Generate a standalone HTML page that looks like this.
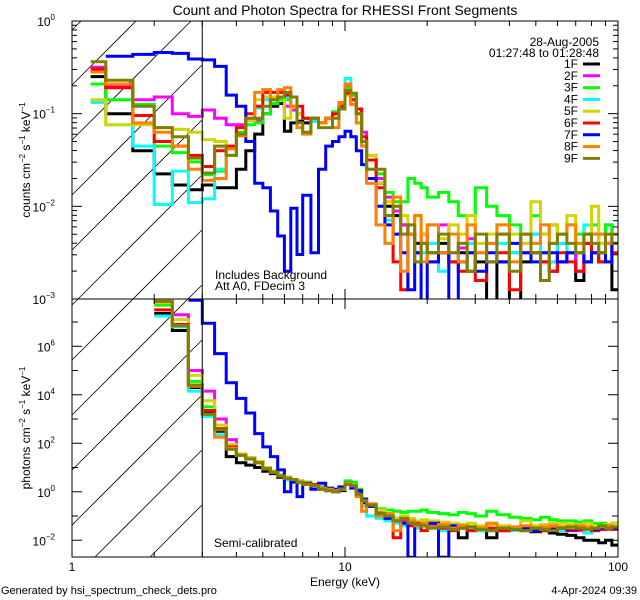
<!DOCTYPE html>
<html><head><meta charset="utf-8"><style>
html,body{margin:0;padding:0;background:#fff;width:640px;height:600px;overflow:hidden;}
svg{display:block;font-family:"Liberation Sans",sans-serif;overflow:hidden;}
</style></head><body>
<svg id="chart" width="640" height="600" viewBox="0 0 640 600">
<defs>
<clipPath id="clipTop"><rect x="72" y="21" width="546" height="278"/></clipPath>
<clipPath id="clipBot"><rect x="72" y="299" width="546" height="258"/></clipPath>
</defs>
<text x="345" y="15" font-size="14" text-anchor="middle">Count and Photon Spectra for RHESSI Front Segments</text>
<g id="hatch"></g>
<g id="series"></g>
<g id="axes"></g>
<text transform="translate(30,160) rotate(-90)" font-size="12" text-anchor="middle">counts cm<tspan font-size="8" dy="-5">−2</tspan><tspan dy="5"> s</tspan><tspan font-size="8" dy="-5">−1</tspan><tspan dy="5"> keV</tspan><tspan font-size="8" dy="-5">−1</tspan></text>
<text transform="translate(30,428) rotate(-90)" font-size="12" text-anchor="middle">photons cm<tspan font-size="8" dy="-5">−2</tspan><tspan dy="5"> s</tspan><tspan font-size="8" dy="-5">−1</tspan><tspan dy="5"> keV</tspan><tspan font-size="8" dy="-5">−1</tspan></text>
<text x="599" y="46" font-size="12" text-anchor="end">28-Aug-2005</text>
<text x="599" y="57" font-size="12" text-anchor="end">01:27:48 to 01:28:48</text>
<text x="215" y="279" font-size="12">Includes Background</text>
<text x="215" y="290" font-size="12">Att A0, FDecim 3</text>
<text x="214" y="547" font-size="12">Semi-calibrated</text>
<text x="345" y="586" font-size="12" text-anchor="middle">Energy (keV)</text>
<text x="1" y="594" font-size="11">Generated by hsi_spectrum_check_dets.pro</text>
<text x="637" y="594" font-size="11" text-anchor="end">4-Apr-2024 09:39</text>
<g id="legend"></g>
</svg>
<script>
const edges=[1.17,1.33,1.67,2,2.33,2.67,3,3.33,3.67,4,4.33,4.67,5,5.33,5.67,6,6.33,6.67,7,7.5,8,8.5,9,9.5,10,10.5,11,11.5,12,13,14,15,16,17,18,19,20,22,24,26,28,30,33,36,40,44,48,52,56,60,65,70,75,80,85,90,95,100];
const seriesNames=["1F","2F","3F","4F","5F","6F","7F","8F","9F"];
const seriesColors=["#000000","#ff00ff","#00ff00","#00ffff","#d4d400","#ff0000","#0000ff","#ff8000","#808000"];
const xTickLabels=["1","10","100"];
const topTickLabels=["0","−1","−2","−3"];
const botTickLabels=["6","4","2","0","−2"];
// log10 counts
const counts1F=[-0.6,-1.0,-1.4,-1.65,-1.77,-1.82,-1.77,-1.8,-1.8,-1.6,-1.4,-1.22,-1.0,-0.92,-0.89,-1.19,-1.1,-1.08,-1.1,-1.08,-1.1,-1.05,-1.0,-0.95,-0.75,-0.85,-1.0,-1.3,-1.5,-1.75,-2.0,-2.1,-2.2,-2.3,-2.4,-2.3,-2.5,-2.4,-2.6,-2.5,-2.7,-2.6,-3.2,-2.6,-3.2,-2.6,-2.5,-2.6,-2.7,-2.6,-2.5,-2.8,-2.6,-2.5,-2.6,-2.4,-2.9];
const counts2F=[-0.5,-0.7,-0.85,-0.82,-1.0,-1.03,-0.96,-1.05,-1.12,-1.12,-1.07,-1.07,-1.0,-0.89,-0.85,-0.92,-0.96,-1.0,-1.05,-1.05,-1.1,-1.05,-1.0,-0.92,-0.7,-0.8,-0.95,-1.2,-1.45,-1.7,-1.9,-2.05,-2.2,-2.3,-2.5,-2.3,-2.4,-2.2,-2.5,-2.45,-2.35,-2.5,-2.4,-2.3,-2.5,-2.4,-2.3,-2.5,-2.6,-2.4,-2.5,-2.7,-2.4,-2.3,-2.5,-2.2,-2.4];
const counts3F=[-0.68,-0.85,-0.9,-1.35,-1.42,-1.52,-1.66,-1.62,-1.45,-1.2,-1.12,-1.1,-1.0,-0.89,-0.85,-0.85,-0.92,-1.0,-1.05,-1.05,-1.1,-1.05,-0.98,-0.9,-0.72,-0.8,-0.95,-1.25,-1.5,-1.65,-1.85,-1.95,-1.95,-1.7,-1.75,-1.8,-1.9,-1.85,-1.95,-2.1,-2.1,-1.8,-2.0,-2.1,-2.2,-2.3,-2.1,-2.3,-2.2,-2.3,-2.2,-2.3,-2.3,-2.2,-2.3,-2.2,-2.3];
const counts4F=[-0.88,-1.12,-1.35,-1.98,-1.62,-1.96,-1.92,-1.6,-1.35,-1.15,-1.07,-0.94,-0.85,-0.82,-0.82,-0.82,-0.92,-1.0,-1.05,-1.08,-1.1,-1.05,-1.0,-0.92,-0.62,-0.9,-1.1,-1.35,-1.6,-2.0,-2.15,-2.3,-2.5,-2.3,-2.6,-2.5,-2.4,-2.7,-2.5,-2.6,-2.4,-2.5,-2.6,-2.4,-2.5,-2.5,-2.3,-2.5,-2.6,-2.4,-2.5,-2.4,-2.2,-2.5,-2.4,-2.6,-2.3];
const counts5F=[-0.85,-1.12,-1.12,-1.15,-1.17,-1.2,-1.28,-1.3,-1.38,-1.15,-1.07,-0.85,-0.82,-0.82,-0.82,-1.05,-0.92,-1.0,-1.05,-1.05,-1.1,-1.05,-1.0,-0.92,-0.8,-0.85,-1.0,-1.3,-1.45,-1.75,-1.95,-2.0,-2.1,-2.2,-2.1,-2.3,-2.2,-2.35,-2.2,-2.3,-2.1,-2.4,-2.3,-2.2,-2.3,-2.4,-1.95,-2.3,-2.2,-2.3,-2.1,-2.4,-2.3,-2.0,-2.4,-2.3,-2.3];
const counts6F=[-0.52,-0.72,-1.02,-1.3,-1.35,-1.45,-1.57,-1.4,-1.35,-1.15,-1.0,-0.92,-0.77,-0.77,-0.77,-0.8,-0.82,-0.92,-1.05,-1.05,-1.1,-1.05,-1.0,-0.92,-0.78,-0.85,-0.95,-1.25,-1.5,-1.8,-2.1,-2.6,-2.9,-2.3,-2.5,-2.4,-2.6,-2.5,-2.6,-2.7,-2.5,-2.8,-2.6,-2.5,-2.9,-2.5,-2.5,-2.6,-2.7,-2.5,-2.6,-2.7,-2.4,-2.5,-2.6,-2.4,-2.5];
const counts7F=[null,-0.38,-0.36,-0.34,-0.35,-0.41,-0.42,-0.49,-0.8,-0.92,-1.3,-1.75,-1.8,-2.05,-2.32,-2.7,-2.02,-2.52,-1.88,-2.5,-1.6,-1.35,-1.3,-1.25,-1.19,-1.25,-1.4,-1.55,-1.7,-2.0,-2.2,-2.3,-2.5,-2.9,-2.5,-3.2,-2.6,-2.5,-3.2,-2.6,-2.5,-2.7,-2.5,-2.6,-2.4,-2.5,-2.6,-2.5,-2.5,-2.6,-2.5,-2.5,-2.6,-2.5,-2.5,-2.6,-2.4];
const counts8F=[-0.55,-0.68,-1.1,-1.2,-1.35,-1.6,-1.72,-1.7,-1.38,-1.24,-1.05,-0.77,-0.74,-0.85,-0.74,-0.72,-0.92,-1.15,-1.22,-1.05,-1.1,-1.05,-1.15,-0.88,-0.68,-0.9,-1.1,-1.35,-1.75,-2.2,-2.4,-1.9,-2.7,-2.3,-2.1,-2.6,-2.2,-2.5,-2.3,-2.6,-2.2,-2.5,-2.4,-2.2,-2.6,-2.3,-2.4,-2.2,-2.4,-2.3,-2.2,-2.4,-2.3,-2.3,-2.3,-2.4,-2.3];
const counts9F=[-0.44,-0.64,-0.92,-1.15,-1.25,-1.48,-1.64,-1.35,-1.45,-1.22,-1.05,-1.05,-0.92,-0.85,-0.82,-0.77,-0.82,-1.1,-1.2,-1.05,-1.15,-1.15,-1.05,-0.95,-0.75,-0.78,-1.0,-1.3,-1.6,-1.6,-2.1,-2.0,-2.3,-2.2,-2.6,-2.4,-2.5,-2.3,-2.5,-2.4,-2.7,-2.3,-2.6,-2.3,-2.7,-2.3,-2.5,-2.8,-2.4,-2.3,-2.4,-2.5,-2.3,-2.4,-2.5,-2.3,-2.4];
// log10 photons
const photons1F=[null,null,null,7.35,6.65,4.3,3.25,2.5,1.45,1.2,1.1,1.0,0.85,0.75,0.6,0.5,0.45,0.4,0.3,0.25,0.1,0.05,0.0,0.05,0.3,0.2,-0.15,-0.45,-0.6,-0.9,-1.0,-1.1,-1.3,-1.3,-1.25,-1.35,-1.4,-1.5,-1.4,-1.9,-1.6,-1.6,-1.9,-1.6,-1.5,-1.6,-1.65,-1.6,-1.7,-1.75,-1.8,-1.9,-2.0,-2.0,-2.1,-2.0,-2.2];
const photons2F=[null,null,null,7.8,7.3,5.0,4.15,3.0,2.15,1.55,1.4,1.25,1.0,0.85,0.7,0.6,0.5,0.45,0.35,0.3,0.15,0.1,0.05,0.1,0.35,0.25,-0.05,-0.35,-0.6,-0.85,-1.0,-1.1,-1.2,-1.3,-1.25,-1.3,-1.4,-1.4,-1.45,-1.4,-1.5,-1.55,-1.5,-1.6,-1.55,-1.5,-1.6,-1.55,-1.5,-1.55,-1.5,-1.6,-1.7,-1.6,-1.5,-1.55,-1.5];
const photons3F=[null,null,null,7.7,6.9,4.55,3.5,2.6,1.95,1.55,1.4,1.25,1.0,0.85,0.7,0.6,0.5,0.45,0.4,0.3,0.2,0.15,0.1,0.15,0.45,0.4,0.1,-0.3,-0.5,-0.7,-0.75,-0.8,-0.85,-0.8,-0.8,-0.75,-0.85,-0.9,-0.95,-0.85,-0.9,-1.0,-0.8,-0.95,-1.05,-1.1,-1.15,-1.05,-1.15,-1.2,-1.2,-1.25,-1.2,-1.3,-1.3,-1.35,-1.3];
const photons4F=[null,null,null,7.25,6.8,4.15,3.1,2.35,1.85,1.5,1.35,1.2,0.95,0.8,0.65,0.5,0.45,0.4,0.35,0.3,0.15,0.1,0.05,0.1,0.35,0.2,-0.15,-0.6,-1.0,-1.1,-1.2,-1.3,-1.4,-1.3,-1.5,-1.35,-1.5,-1.6,-1.45,-1.5,-1.55,-1.6,-1.5,-1.55,-1.6,-1.5,-1.55,-1.6,-1.55,-1.6,-1.55,-1.5,-1.7,-1.6,-1.55,-1.5,-1.55];
const photons5F=[null,null,null,7.8,7.1,4.8,3.75,2.75,1.95,1.55,1.4,1.25,1.0,0.85,0.7,0.6,0.5,0.45,0.35,0.3,0.15,0.1,0.05,0.1,0.35,0.25,-0.1,-0.4,-0.6,-0.75,-0.9,-1.1,-1.0,-1.1,-1.2,-1.15,-1.2,-1.25,-1.3,-1.35,-1.3,-1.4,-1.35,-1.4,-1.45,-1.2,-1.4,-1.35,-1.3,-1.3,-1.35,-1.4,-1.3,-1.45,-1.4,-1.35,-1.3];
const photons6F=[null,null,null,7.5,6.9,4.4,3.35,2.6,1.85,1.5,1.35,1.2,0.95,0.8,0.65,0.55,0.5,0.4,0.35,0.3,0.15,0.1,0.05,0.1,0.35,0.25,-0.1,-0.4,-0.6,-0.9,-1.0,-1.9,-1.3,-1.4,-1.3,-1.6,-1.45,-1.5,-1.6,-1.5,-1.6,-1.55,-1.5,-1.6,-1.5,-1.55,-1.5,-1.6,-1.55,-1.5,-1.6,-1.55,-1.5,-1.6,-1.55,-1.5,-1.55];
const photons7F=[null,null,null,null,null,7.9,6.95,5.7,4.5,3.85,3.25,2.4,1.85,1.45,0.9,0.0,0.4,-0.2,0.3,0.1,0.35,0.15,0.1,0.2,0.35,0.15,0.05,-0.3,-0.6,-0.9,-1.1,-1.2,-1.3,-2.7,-1.35,-1.4,-1.3,-2.7,-1.4,-1.5,-1.45,-1.5,-1.6,-1.5,-1.55,-1.5,-1.6,-1.5,-1.55,-1.5,-1.55,-1.5,-1.5,-1.55,-1.5,-1.45,-1.5];
const photons8F=[null,null,null,7.85,6.85,4.35,3.2,2.25,1.8,1.5,1.35,1.2,0.95,0.8,0.65,0.55,0.5,0.4,0.3,0.25,0.15,0.1,0.05,0.1,0.35,0.25,-0.2,-0.8,-0.5,-1.0,-0.9,-1.6,-1.1,-1.2,-1.4,-1.3,-1.45,-1.35,-1.5,-1.4,-1.45,-1.5,-1.3,-1.5,-1.45,-1.4,-1.5,-1.45,-1.4,-1.45,-1.5,-1.4,-1.45,-1.5,-1.45,-1.4,-1.45];
const photons9F=[null,null,null,7.85,6.85,4.4,3.2,2.55,1.75,1.5,1.35,1.2,0.95,0.8,0.65,0.55,0.5,0.4,0.3,0.25,0.1,0.05,0.0,0.1,0.3,0.25,-0.1,-0.35,-0.55,-0.9,-1.0,-1.2,-1.1,-1.3,-1.35,-1.4,-1.5,-1.45,-1.55,-1.5,-1.45,-1.55,-1.6,-1.5,-1.55,-1.6,-1.5,-1.55,-1.6,-1.5,-1.45,-1.5,-1.55,-1.5,-1.4,-1.5,-1.45];
const countsAll=[counts1F,counts2F,counts3F,counts4F,counts5F,counts6F,counts7F,counts8F,counts9F];
const photonsAll=[photons1F,photons2F,photons3F,photons4F,photons5F,photons6F,photons7F,photons8F,photons9F];

const NS="http://www.w3.org/2000/svg";
const X0=72,X1=618,TOP0=21,TOP1=299,BOT0=299,BOT1=557;
function xScale(e){return X0+(Math.log10(e)-0)/(2)*(X1-X0);}
function yTop(l){return TOP0+(0-l)*(TOP1-TOP0)/3;}
const BOT_HI=7.95,BOT_LO=-2.69;
function yBot(l){return BOT0+(BOT_HI-l)*(BOT1-BOT0)/(BOT_HI-BOT_LO);}
function mk(tag,attrs,parent){const el=document.createElementNS(NS,tag);for(const k in attrs)el.setAttribute(k,attrs[k]);parent.appendChild(el);return el;}

// hatch: 45-degree lines, manually clipped to box x 72..202, y 21..557
const hatch=document.getElementById('hatch');
const HX0=72,HX1=202,HY0=21,HY1=557;
for(let c=85-55*3;c<=85+55*12;c+=55){
  // line: y = c - (x - HX0)
  let xa=Math.max(HX0, HX0+(c-HY1)), xb=Math.min(HX1, HX0+(c-HY0));
  if(xb<=xa) continue;
  const l=mk('line',{x1:xa,y1:c-(xa-HX0),x2:xb,y2:c-(xb-HX0),stroke:'#000','stroke-width':0.8},hatch);
  
  
}

function stepPath(vals,yf,lo,hi){
  let d='',pen=false;
  for(let i=0;i<edges.length-1;i++){
    const v=vals[i];
    if(v===null||v===undefined){pen=false;continue;}
    const vv=Math.max(lo,Math.min(hi,v));
    const xa=xScale(edges[i]).toFixed(1),xb=xScale(edges[i+1]).toFixed(1),y=yf(vv).toFixed(1);
    d+=(pen?'L':'M')+xa+' '+y+'L'+xb+' '+y;
    pen=true;
  }
  return d;
}
const sg=document.getElementById('series');
const gTop=mk('g',{'clip-path':'url(#clipTop)'},sg);


const gBot=mk('g',{'clip-path':'url(#clipBot)'},sg);


for(let s=0;s<9;s++){
  const p=mk('path',{d:stepPath(countsAll[s],yTop,-3.05,0.05),fill:'none',stroke:seriesColors[s],'stroke-width':3,'stroke-linejoin':'miter'},gTop);
  
  
  const q=mk('path',{d:stepPath(photonsAll[s],yBot,-2.75,8.0),fill:'none',stroke:seriesColors[s],'stroke-width':3},gBot);
  
  
}

// axes
const ax=document.getElementById('axes');
const fr1=mk('rect',{x:X0,y:TOP0,width:X1-X0,height:TOP1-TOP0,fill:'none',stroke:'#000','stroke-width':1},ax);


const fr2=mk('rect',{x:X0,y:BOT0,width:X1-X0,height:BOT1-BOT0,fill:'none',stroke:'#000','stroke-width':1},ax);


const vl=mk('line',{x1:xScale(3),y1:TOP0,x2:xScale(3),y2:BOT1,stroke:'#000','stroke-width':1},ax);


// x ticks
for(let d=0;d<2;d++)for(let m=1;m<=9;m++){
  const e=Math.pow(10,d)*m;const x=xScale(e);const L=(m===1)?10:5;
  [[TOP0,1],[TOP1,-1],[BOT0,1],[BOT1,-1]].forEach(([y,dir])=>{
    const t=mk('line',{x1:x,y1:y,x2:x,y2:y+dir*L,stroke:'#000','stroke-width':1},ax);
    
    
  });
}
xTickLabels.forEach((lab,i)=>{
  const t=mk('text',{x:xScale(Math.pow(10,i)),y:571,'font-size':12,'text-anchor':'middle'},ax);
  t.textContent=lab;
  
  
});
// top y ticks
for(let d=-3;d<0;d++)for(let m=1;m<=9;m++){
  const l=d+Math.log10(m);const y=yTop(l);const L=(m===1)?10:5;
  [[X0,1],[X1,-1]].forEach(([x,dir])=>{
    const t=mk('line',{x1:x,y1:y,x2:x+dir*L,y2:y,stroke:'#000','stroke-width':1},ax);
    
    
  });
}
topTickLabels.forEach((lab,i)=>{
  const t=mk('text',{x:55,y:yTop(-i)+5,'font-size':12,'text-anchor':'end'},ax);
  t.textContent='10';
  
  
  const s=mk('tspan',{'font-size':8,dy:-6},t);s.textContent=lab;
});
// bottom y ticks
for(let l=-2;l<=7;l++){
  const y=yBot(l);const L=(l%2===0)?10:6;
  [[X0,1],[X1,-1]].forEach(([x,dir])=>{
    const t=mk('line',{x1:x,y1:y,x2:x+dir*L,y2:y,stroke:'#000','stroke-width':1},ax);
    
    
  });
}
botTickLabels.forEach((lab,i)=>{
  const t=mk('text',{x:55,y:yBot(6-2*i)+5,'font-size':12,'text-anchor':'end'},ax);
  t.textContent='10';
  
  
  const s=mk('tspan',{'font-size':8,dy:-6},t);s.textContent=lab;
});
// legend
const lg=document.getElementById('legend');
seriesNames.forEach((n,i)=>{
  const y=64+i*11.8;
  const t=mk('text',{x:578,y:y+4,'font-size':12,'text-anchor':'end'},lg);
  t.textContent=n;
  
  
  const l=mk('line',{x1:583,y1:y,x2:600,y2:y,stroke:seriesColors[i],'stroke-width':3},lg);
  
  
});
</script>
</body></html>
